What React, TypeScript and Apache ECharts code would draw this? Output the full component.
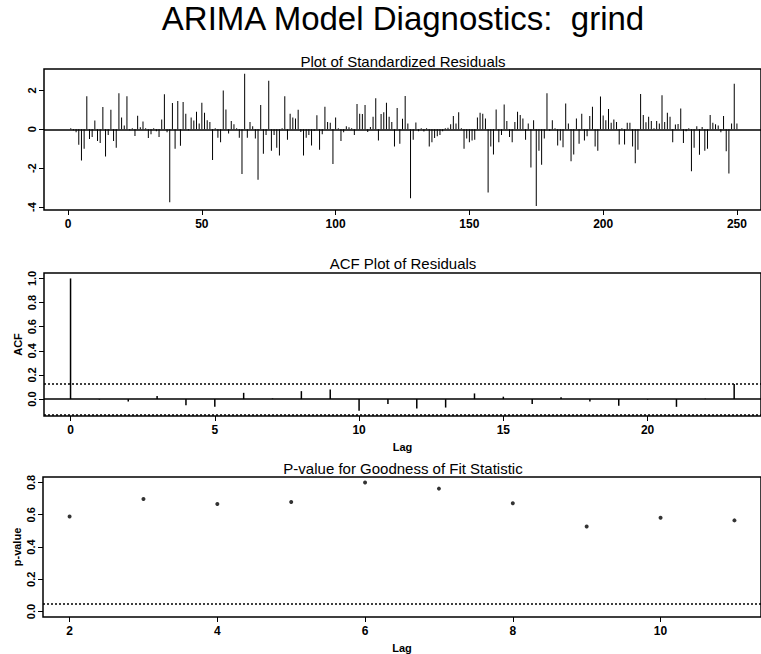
import React, { useEffect, useRef } from "react";
import * as echarts from "echarts";

const residuals: number[] = [
  0.05, -0.05, -0.15, -0.8, -1.6, -1.0, 1.7, -0.5, -0.4, 0.45,
  -0.6, -0.7, 1.15, -1.4, -0.3, 1.0, -0.6, -0.95, 1.85, 0.6,
  0.2, 1.7, -0.05, 0.05, -0.35, 0.7, 0.1, 0.4, 0.05, -0.45,
  -0.25, 0.05, -0.1, -0.4, 0.5, 1.8, -0.15, -3.75, 1.35, -1.0,
  1.45, -0.85, 1.4, 0.8, -0.05, 0.6, 0.45, 0.9, 0.3, 1.37,
  0.85, 0.47, 0.38, -1.58, 0.05, -0.43, -0.66, 2.0, 1.02, -0.22,
  0.43, 0.26, 0.05, -0.43, -2.3, 2.85, -0.43, 0.38, 0.15, -0.48,
  -2.6, 1.25, -1.26, -0.3, 2.5, -1.1, -0.3, -0.95, -1.35, 0.05,
  1.7, -0.54, 0.8, 0.6, 0.55, 1.0, -0.14, -1.35, -0.43, -0.3,
  -0.83, -0.08, 0.72, -1.05, -0.25, 1.16, 0.38, 0.33, -1.78, 0.6,
  0.05, -0.6, -0.15, 0.15, 0.1, 0.05, -0.3, 1.3, 0.8, 0.78,
  1.25, -0.14, 0.12, 0.64, 1.6, -0.57, 0.78, 0.87, 1.37, 0.64,
  0.38, -0.88, 1.1, -0.74, 0.54, 1.71, 0.3, -3.55, -0.54, 0.35,
  -0.1, 0.05, -0.12, 0.05, -0.88, -0.66, -0.45, -0.36, -0.3, -0.1,
  0.05, 0.08, 0.26, 0.68, 0.3, 0.87, 0.05, -1.0, -0.48, -0.66,
  -0.57, -0.54, 0.6, 0.85, 0.8, 0.55, -3.25, -0.88, -1.3, 1.02,
  -0.66, -0.3, 1.28, 0.43, -0.4, -0.66, 0.38, 0.9, 0.73, 0.55,
  -0.54, 0.3, -1.96, 0.47, -3.95, -1.1, -1.82, -0.48, 1.85, -0.08,
  0.47, 0.05, -0.83, -0.57, -0.92, 1.33, 0.3, -1.64, -1.3, 0.55,
  -0.74, 0.8, -0.57, -0.36, 0.68, 1.16, -0.88, -1.1, 1.68, 0.71,
  0.47, 1.04, 0.33, 0.5, 0.38, -0.78, 0.05, -0.78, 0.33, 0.33,
  -0.88, -1.75, -1.05, 1.82, 0.73, 0.36, 0.64, 0.43, 0.05, 0.43,
  0.3, 1.75, 0.38, 0.85, 0.64, -0.66, 0.25, 0.27, 1.07, -0.71,
  -0.1, 0.05, -2.16, -0.95, 0.15, -1.31, 0.12, -1.1, -1.0, 0.73,
  0.33, 0.26, 0.2, -0.15, 0.68, -1.13, -2.27, 0.3, 2.34, 0.3,
];

const residXTicks = [0, 50, 100, 150, 200, 250];
const residYTicks = [-4, -2, 0, 2];

const acfLags = [0, 1, 2, 3, 4, 5, 6, 7, 8, 9, 10, 11, 12, 13, 14, 15, 16, 17, 18, 19, 20, 21, 22, 23];
const acfValues = [
  1.0, -0.005, -0.02, 0.025, -0.05, -0.064, 0.052, 0.005, 0.066, 0.08,
  -0.097, -0.04, -0.077, -0.07, 0.047, 0.02, -0.04, 0.015, -0.02, -0.055,
  -0.005, -0.064, 0.004, 0.125,
];
const acfBound = 0.1265;
const acfXTicks = [0, 5, 10, 15, 20];
const acfYTicks = [0, 0.2, 0.4, 0.6, 0.8, 1.0];

const pLags = [2, 3, 4, 5, 6, 7, 8, 9, 10, 11];
const pValues = [0.589, 0.697, 0.667, 0.679, 0.8, 0.762, 0.671, 0.527, 0.581, 0.565];
const pThreshold = 0.05;
const pXTicks = [2, 4, 6, 8, 10];
const pYTicks = [0, 0.2, 0.4, 0.6, 0.8];

const mainTitle = "ARIMA Model Diagnostics:  grind";
const panelTitles = [
  "Plot of Standardized Residuals",
  "ACF Plot of Residuals",
  "P-value for Goodness of Fit Statistic",
];

const FONT = "'Liberation Sans', Arial, Helvetica, sans-serif";

export default function App() {
  const ref = useRef<HTMLDivElement>(null);

  useEffect(() => {
    if (!ref.current) return;
    const chart = echarts.init(ref.current, undefined, { renderer: "svg" });

    const tickLabel = {
      color: "#000",
      fontFamily: FONT,
      fontWeight: "bold" as const,
      fontSize: 12,
    };

    const mkX = (gridIndex: number, min: number, max: number, ticks: number[], name?: string) => ({
      type: "value" as const,
      gridIndex,
      min,
      max,
      axisLine: { show: false, onZero: false },
      splitLine: { show: false },
      axisTick: { show: true, length: 5, customValues: ticks, lineStyle: { color: "#000", width: 1 } },
      axisLabel: { ...tickLabel, margin: 8, customValues: ticks, formatter: (v: number) => String(v) },
      name,
      nameLocation: "middle" as const,
      nameGap: 25,
      nameMoveOverlap: false,
      nameTextStyle: { color: "#000", fontFamily: FONT, fontWeight: "bold" as const, fontSize: 11 },
    });

    const mkY = (gridIndex: number, min: number, max: number, ticks: number[], fmt: (v: number) => string, name?: string) => ({
      type: "value" as const,
      gridIndex,
      min,
      max,
      axisLine: { show: false, onZero: false },
      splitLine: { show: false },
      axisTick: { show: true, length: 5, customValues: ticks, lineStyle: { color: "#000", width: 1 } },
      axisLabel: { ...tickLabel, fontSize: 11, rotate: 90, margin: 7, customValues: ticks, formatter: fmt },
      name,
      nameLocation: "middle" as const,
      nameRotate: 90,
      nameGap: 21,
      nameMoveOverlap: false,
      nameTextStyle: { color: "#000", fontFamily: FONT, fontWeight: "bold" as const, fontSize: 11 },
    });

    const gridBase = { show: true, borderColor: "#000", borderWidth: 1.5, backgroundColor: "transparent", containLabel: false };

    const titleText = (y: number, text: string, size: number) => ({
      type: "text" as const,
      x: 403,
      y,
      silent: true,
      style: {
        text,
        fill: "#000",
        fontFamily: FONT,
        fontSize: size,
        textAlign: "center",
        textVerticalAlign: "middle",
      },
    });

    const option: any = {
      animation: false,
      backgroundColor: "#fff",
      grid: [
        { ...gridBase, left: 44, top: 69, width: 720, height: 141 },
        { ...gridBase, left: 44, top: 273, width: 720, height: 143 },
        { ...gridBase, left: 43, top: 477, width: 721, height: 144 },
      ],
      xAxis: [
        mkX(0, -9, 259, residXTicks),
        mkX(1, -0.92, 23.93, acfXTicks, "Lag"),
        mkX(2, 1.64, 11.36, pXTicks, "Lag"),
      ],
      yAxis: [
        mkY(0, -4.15, 3.1, residYTicks, (v) => String(v)),
        mkY(1, -0.14, 1.045, acfYTicks, (v) => v.toFixed(1), "ACF"),
        mkY(2, -0.034, 0.834, pYTicks, (v) => v.toFixed(1), "p-value"),
      ],
      graphic: [
        titleText(18.5, mainTitle, 33),
        titleText(61.5, panelTitles[0], 15),
        titleText(263, panelTitles[1], 15),
        titleText(468, panelTitles[2], 15),
      ],
      series: [
        {
          type: "bar",
          xAxisIndex: 0,
          yAxisIndex: 0,
          barWidth: 1,
          itemStyle: { color: "#000" },
          data: residuals.map((v, i) => [i + 1, v]),
          markLine: {
            silent: true,
            symbol: ["none", "none"],
            label: { show: false },
            lineStyle: { color: "#000", type: "solid", width: 1.5 },
            data: [{ yAxis: 0 }],
          },
        },
        {
          type: "bar",
          xAxisIndex: 1,
          yAxisIndex: 1,
          barWidth: 1.5,
          itemStyle: { color: "#000" },
          data: acfLags.map((l, i) => [l, acfValues[i]]),
          markLine: {
            silent: true,
            symbol: ["none", "none"],
            label: { show: false },
            data: [
              { yAxis: 0, lineStyle: { color: "#000", type: "solid", width: 1.5 } },
              { yAxis: acfBound, lineStyle: { color: "#000", type: [2, 2], width: 1.5 } },
              { yAxis: -acfBound, lineStyle: { color: "#000", type: [2, 2], width: 1.5 } },
            ],
          },
        },
        {
          type: "scatter",
          xAxisIndex: 2,
          yAxisIndex: 2,
          symbol: "circle",
          symbolSize: 4,
          itemStyle: { color: "#000" },
          data: pLags.map((l, i) => [l, pValues[i]]),
          markLine: {
            silent: true,
            symbol: ["none", "none"],
            label: { show: false },
            data: [{ yAxis: pThreshold, lineStyle: { color: "#000", type: [2, 2], width: 1.5 } }],
          },
        },
      ],
    };

    chart.setOption(option);
    return () => chart.dispose();
  }, []);

  return (
    <div
      ref={ref}
      style={{ position: "fixed", left: 0, top: 0, width: 761, height: 654, background: "#fff" }}
    />
  );
}
